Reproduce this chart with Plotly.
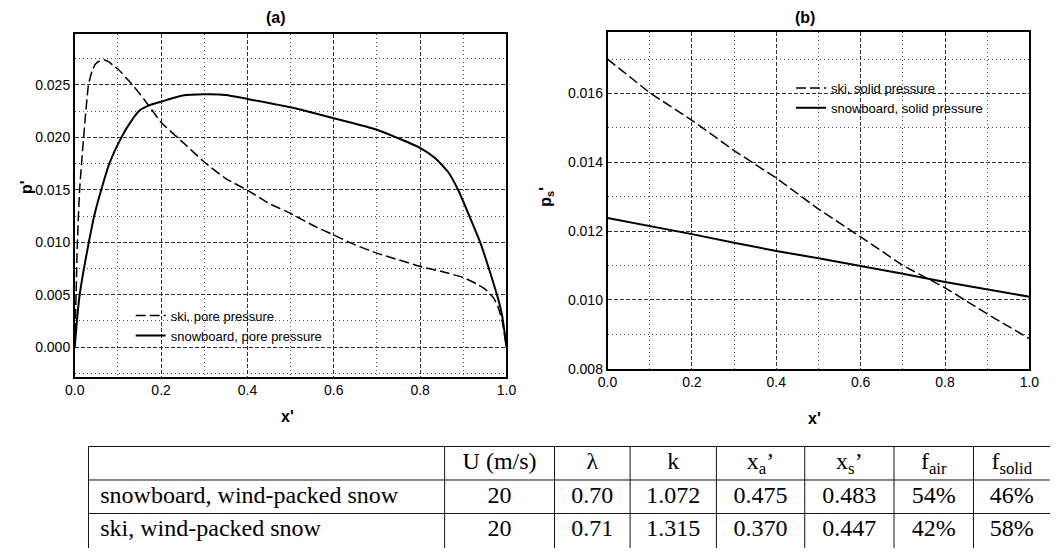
import plotly.graph_objects as go

# ---------------- data ----------------
# (a) pore pressure
x_ski_pore = [0.0, 0.003, 0.0061, 0.0113, 0.0205, 0.0318, 0.040, 0.048, 0.058, 0.069, 0.078, 0.088, 0.10,
              0.13, 0.16, 0.20, 0.25, 0.30, 0.35, 0.40, 0.45, 0.50, 0.55, 0.60, 0.65, 0.70, 0.75, 0.80,
              0.85, 0.90, 0.93, 0.95, 0.97, 0.98, 0.99, 1.0]
p_ski_pore = [0.0, 0.005, 0.010, 0.015, 0.020, 0.0250, 0.0263, 0.0270, 0.02728, 0.02737, 0.02722, 0.0269, 0.02651,
              0.02518, 0.02366, 0.02144, 0.01954, 0.01765, 0.01607, 0.01496, 0.0137, 0.01275, 0.01164, 0.01069,
              0.00974, 0.00896, 0.00832, 0.00769, 0.00721, 0.00664, 0.00605, 0.00556, 0.00469, 0.00389, 0.0025, 0.0]

x_sb_pore = [0.0, 0.005, 0.0114, 0.02, 0.0326, 0.045, 0.0614, 0.08, 0.108, 0.13, 0.15, 0.175, 0.20, 0.25,
             0.30, 0.35, 0.40, 0.50, 0.60, 0.70, 0.75, 0.80, 0.835, 0.865, 0.888, 0.91, 0.94,
             0.96, 0.98, 0.99, 1.0]
p_sb_pore = [0.0, 0.0025, 0.005, 0.0072, 0.010, 0.0125, 0.015, 0.0175, 0.020, 0.0215, 0.02255, 0.0231, 0.0234, 0.02398,
             0.0241, 0.02404, 0.02366, 0.02287, 0.02182, 0.02072, 0.01990, 0.0190, 0.0180, 0.0167, 0.0150,
             0.0129, 0.0099, 0.0074, 0.0047, 0.0030, 0.0]

# (b) solid pressure
x_solid = [0.0, 0.1, 0.2, 0.3, 0.4, 0.5, 0.6, 0.7, 0.8, 0.9, 1.0]
ps_ski = [0.0170, 0.01602, 0.01522, 0.01434, 0.01354, 0.01264, 0.01183, 0.0110, 0.01035, 0.00959, 0.00887]
ps_sb = [0.01238, 0.01215, 0.01191, 0.01166, 0.01142, 0.01121, 0.01099, 0.01076, 0.01052, 0.01030, 0.01009]

# table
tbl_header = ["", "U (m/s)", "λ", "k", "x<sub>a</sub>’", "x<sub>s</sub>’", "f<sub>air</sub>", "f<sub>solid</sub>"]
tbl_rows = ["snowboard, wind-packed snow", "ski, wind-packed snow"]
tbl_U = ["20", "20"]
tbl_lambda = ["0.70", "0.71"]
tbl_k = ["1.072", "1.315"]
tbl_xa = ["0.475", "0.370"]
tbl_xs = ["0.483", "0.447"]
tbl_fair = ["54%", "42%"]
tbl_fsolid = ["46%", "58%"]

# ---------------- figure ----------------
W, H = 1060, 556
SANS = "Liberation Sans, Arial, sans-serif"
SERIF = "Liberation Serif, Times New Roman, serif"


def px(x):
    return x / W


def py(y):
    return 1 - y / H


fig = go.Figure()

dash_ski = "10px,4px"
fig.add_trace(go.Scatter(x=x_ski_pore, y=p_ski_pore, mode="lines", name="ski, pore pressure",
                         line=dict(color="black", width=1.5, dash=dash_ski, shape="spline", smoothing=0.5),
                         xaxis="x", yaxis="y", legend="legend", hoverinfo="skip"))
fig.add_trace(go.Scatter(x=x_sb_pore, y=p_sb_pore, mode="lines", name="snowboard, pore pressure",
                         line=dict(color="black", width=2, shape="spline", smoothing=0.5),
                         xaxis="x", yaxis="y", legend="legend", hoverinfo="skip"))
fig.add_trace(go.Scatter(x=x_solid, y=ps_ski, mode="lines", name="ski, solid pressure",
                         line=dict(color="black", width=1.5, dash=dash_ski), xaxis="x2", yaxis="y2",
                         legend="legend2", hoverinfo="skip"))
fig.add_trace(go.Scatter(x=x_solid, y=ps_sb, mode="lines", name="snowboard, solid pressure",
                         line=dict(color="black", width=2), xaxis="x2", yaxis="y2", legend="legend2",
                         hoverinfo="skip"))

# ---------------- table (drawn on a pixel-unit helper axis) ----------------
col_edges = [80, 443, 555, 632, 720, 810, 901, 982, 1060]
row_edges = [453, 487, 521, 555]
columns = [tbl_rows, tbl_U, tbl_lambda, tbl_k, tbl_xa, tbl_xs, tbl_fair, tbl_fsolid]

row_centers = [(row_edges[i] + row_edges[i + 1]) / 2 for i in range(len(row_edges) - 1)]
for ci, col in enumerate(columns):
    texts = [tbl_header[ci]] + list(col)
    if ci == 0:
        xs = [col_edges[0] + 12] * len(texts)
        pos = "middle right"
    else:
        xs = [(col_edges[ci] + col_edges[ci + 1]) / 2] * len(texts)
        pos = "middle center"
    fig.add_trace(go.Scatter(x=xs, y=row_centers[:len(texts)], text=texts, mode="text",
                             textposition=pos, textfont=dict(family=SERIF, size=24, color="black"),
                             xaxis="x3", yaxis="y3", showlegend=False, hoverinfo="skip"))

shapes = []
for ry in row_edges[:-1]:
    shapes.append(dict(type="line", xref="x3", yref="y3", x0=col_edges[0], x1=col_edges[-1], y0=ry, y1=ry,
                       line=dict(color="#111", width=1)))
for cx in col_edges[:-1]:
    shapes.append(dict(type="line", xref="x3", yref="y3", x0=cx, x1=cx, y0=row_edges[0], y1=H,
                       line=dict(color="#111", width=1)))

grid_common = dict(showline=True, linecolor="black", linewidth=1.5, mirror=True,
                   showgrid=True, gridcolor="#333", gridwidth=1, griddash="4px,2px",
                   zeroline=False, ticks="", tickfont=dict(family=SANS, size=14, color="black"))
minor_common = dict(showgrid=True, gridcolor="#555", griddash="1px,3px", gridwidth=1)

fig.update_layout(
    width=W, height=H,
    margin=dict(l=0, r=0, t=0, b=0),
    paper_bgcolor="white", plot_bgcolor="white",
    font=dict(family=SANS, color="black"),
    xaxis=dict(domain=[px(66), px(506)], range=[0, 1], dtick=0.2, tickformat=".1f", anchor="y",
               minor=dict(dtick=0.1, **minor_common), **grid_common),
    yaxis=dict(domain=[py(382), py(34)], range=[-0.0028, 0.0299], dtick=0.005, tick0=0, tickformat=".3f",
               anchor="x", minor=dict(dtick=0.0025, tick0=0, **minor_common), **grid_common),
    xaxis2=dict(domain=[px(609), px(1039)], range=[0, 1], dtick=0.2, tickformat=".1f", anchor="y2",
                minor=dict(dtick=0.1, **minor_common), **grid_common),
    yaxis2=dict(domain=[py(374), py(32)], range=[0.008, 0.0178], dtick=0.002, tick0=0.008, tickformat=".3f",
                anchor="x2", minor=dict(dtick=0.001, tick0=0.008, **minor_common), **grid_common),
    xaxis3=dict(domain=[0, 1], range=[0, W], visible=False, fixedrange=True, anchor="y3"),
    yaxis3=dict(domain=[0, py(440)], range=[H, 440], visible=False, fixedrange=True, anchor="x3"),
    legend=dict(x=px(123), y=py(305), xanchor="left", yanchor="top", bgcolor="rgba(0,0,0,0)",
                font=dict(family=SANS, size=13, color="black"), tracegroupgap=0, itemwidth=30,
                borderwidth=0),
    legend2=dict(x=px(796), y=py(74), xanchor="left", yanchor="top", bgcolor="rgba(0,0,0,0)",
                 font=dict(family=SANS, size=13, color="black"), tracegroupgap=0, itemwidth=30,
                 borderwidth=0),
    showlegend=True,
    shapes=shapes,
)

annots = [
    dict(text="<b>(a)</b>", x=px(271), y=py(18)),
    dict(text="<b>(b)</b>", x=px(810), y=py(18)),
    dict(text="<b>x'</b>", x=px(283), y=py(423)),
    dict(text="<b>x'</b>", x=px(820), y=py(425)),
    dict(text="<b>p'</b>", x=px(17), y=py(190), textangle=-90),
    dict(text="<b>p<sub>s</sub>'</b>", x=px(546), y=py(200), textangle=-90),
]
for a in annots:
    fig.add_annotation(xref="paper", yref="paper", showarrow=False, xanchor="center", yanchor="middle",
                       font=dict(family=SANS, size=16, color="black"), **a)

fig.write_html("out.html")
